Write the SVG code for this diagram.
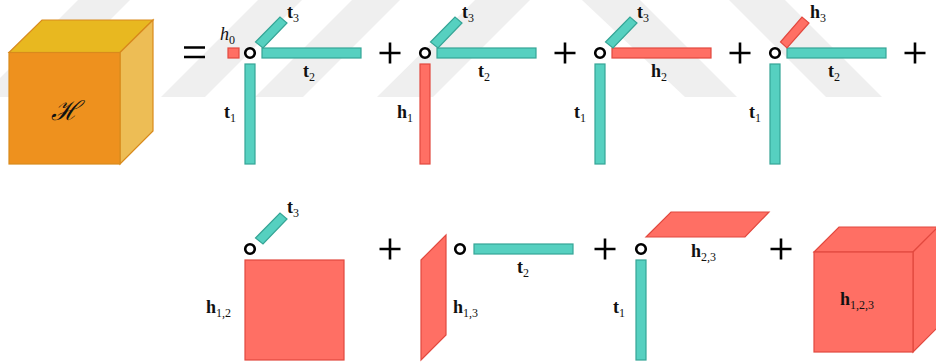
<svg xmlns="http://www.w3.org/2000/svg" width="936" height="363" viewBox="0 0 936 363">
<style>
.t{fill:#56d0c0;stroke:#35a596;stroke-width:1.2}
.h{fill:#ff6f64;stroke:#e2493f;stroke-width:1.2}
.c{fill:#fff;stroke:#000;stroke-width:2.6}
.p{stroke:#000;stroke-width:2.6;fill:none}
.w{fill:#efefef}
text{font-family:"Liberation Serif",serif;fill:#111}
.l{font-size:18px;font-weight:bold}
.s{font-size:12px;font-weight:normal}
</style>
<defs>
<g id="plus"><path class="p" d="M-10.5 0H10.5M0-10.5V10.5"/></g>
<g id="v"><rect class="t" x="-5" y="11" width="10" height="100"/></g>
<g id="tt2"><rect class="t" x="12" y="-5" width="99" height="10"/></g>
<g id="tt3"><polygon class="t" points="5.5,-11 30,-36 37,-30 13,-5"/></g>
</defs>
<g id="watermark">
<polygon class="w" points="0,78 78,0 130,0 33,97 0,97"/>
<polygon class="w" points="160,97 257,0 213,0 116,97" transform="translate(45,0)"/>
<polygon class="w" points="255,97 352,0 400,0 303,97"/>
<polygon class="w" points="377,97 475,0 530,0 433,97"/>
<polygon class="w" points="582,0 640,0 737,97 685,97"/>
<polygon class="w" points="729,0 785,0 882,97 826,97"/>
</g>
<g id="cube">
<polygon points="9,52.5 42,20 153,20 120,52.5" fill="#e8b820" stroke="#d98a1c" stroke-width="1.2"/>
<polygon points="120,52.5 153,20 153,131 120,164" fill="#edbd55" stroke="#d98a1c" stroke-width="1.2"/>
<rect x="9" y="52.5" width="111" height="111.5" fill="#ee911e" stroke="#d98a1c" stroke-width="1.2"/>
<text x="65" y="120" font-size="27" text-anchor="middle" style="font-family:'DejaVu Serif',serif;font-style:italic">ℋ</text>
</g>
<g id="equals"><path class="p" d="M184 47.5H205M184 57H205" stroke-width="3"/></g>
<g id="term1" transform="translate(250,53)">
<rect class="h" x="-22" y="-5" width="11" height="10"/>
<use href="#v"/><use href="#tt2"/><use href="#tt3"/><circle class="c" r="4.8"/>
<text x="-30" y="-13" font-size="18" font-style="italic">h<tspan class="s" dy="4" font-style="normal">0</tspan></text>
<text class="l" x="37" y="-35">t<tspan class="s" dy="4">3</tspan></text>
<text class="l" x="53" y="24">t<tspan class="s" dy="4">2</tspan></text>
<text class="l" x="-26" y="65">t<tspan class="s" dy="4">1</tspan></text>
</g>
<use href="#plus" x="390" y="53"/>
<g id="term2" transform="translate(425,53)">
<rect class="h" x="-5" y="11" width="10" height="100"/>
<use href="#tt2"/><use href="#tt3"/><circle class="c" r="4.8"/>
<text class="l" x="37" y="-35">t<tspan class="s" dy="4">3</tspan></text>
<text class="l" x="53" y="24">t<tspan class="s" dy="4">2</tspan></text>
<text class="l" x="-28" y="65">h<tspan class="s" dy="4">1</tspan></text>
</g>
<use href="#plus" x="565" y="53"/>
<g id="term3" transform="translate(600,53)">
<use href="#v"/><rect class="h" x="12" y="-5" width="99" height="10"/><use href="#tt3"/><circle class="c" r="4.8"/>
<text class="l" x="37" y="-35">t<tspan class="s" dy="4">3</tspan></text>
<text class="l" x="51" y="24">h<tspan class="s" dy="4">2</tspan></text>
<text class="l" x="-26" y="65">t<tspan class="s" dy="4">1</tspan></text>
</g>
<use href="#plus" x="740" y="53"/>
<g id="term4" transform="translate(775,53)">
<use href="#v"/><use href="#tt2"/><polygon class="h" points="5.5,-11 27,-36 34,-30 12,-5"/><circle class="c" r="4.8"/>
<text class="l" x="35" y="-35">h<tspan class="s" dy="4">3</tspan></text>
<text class="l" x="53" y="24">t<tspan class="s" dy="4">2</tspan></text>
<text class="l" x="-26" y="65">t<tspan class="s" dy="4">1</tspan></text>
</g>
<use href="#plus" x="915" y="53"/>
<g id="term5" transform="translate(250,249)">
<use href="#tt3"/><rect class="h" x="-5" y="11" width="99" height="100"/><circle class="c" r="4.8"/>
<text class="l" x="37" y="-36">t<tspan class="s" dy="4">3</tspan></text>
<text class="l" x="-44" y="64">h<tspan class="s" dy="4">1,2</tspan></text>
</g>
<use href="#plus" x="390" y="249"/>
<g id="term6" transform="translate(460,249)">
<polygon class="h" points="-39,11 -14,-14 -14,86 -39,111"/>
<use href="#tt2" transform="translate(2,0)"/><circle class="c" r="4.8"/>
<text class="l" x="-7" y="64">h<tspan class="s" dy="4">1,3</tspan></text>
<text class="l" x="57" y="24">t<tspan class="s" dy="4">2</tspan></text>
</g>
<use href="#plus" x="605" y="249"/>
<g id="term7" transform="translate(641,249)">
<use href="#v"/><polygon class="h" points="5,-12 30,-37 128,-37 104,-12"/><circle class="c" r="4.8"/>
<text class="l" x="50" y="8">h<tspan class="s" dy="4">2,3</tspan></text>
<text class="l" x="-28" y="64">t<tspan class="s" dy="4">1</tspan></text>
</g>
<use href="#plus" x="781" y="249"/>
<g id="term8">
<polygon class="h" points="814,252 839,227 938,227 913,252"/>
<polygon class="h" points="913,252 938,227 938,327 913,352"/>
<rect class="h" x="814" y="252" width="99" height="100"/>
<text class="l" x="840" y="305">h<tspan class="s" dy="4">1,2,3</tspan></text>
</g>
</svg>
